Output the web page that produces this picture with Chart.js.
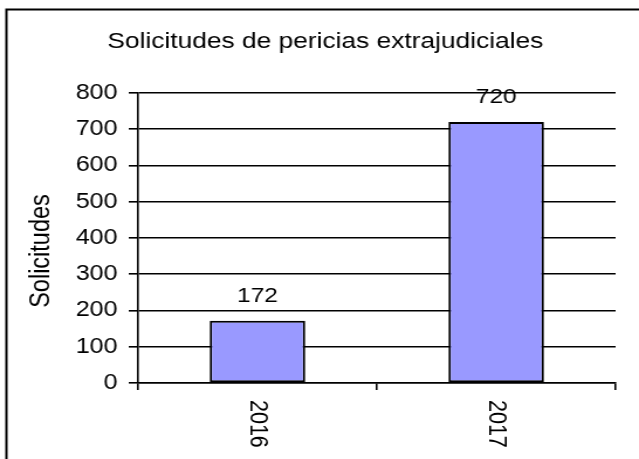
<!DOCTYPE html>
<html>
<head>
<meta charset="utf-8">
<script src="https://cdn.jsdelivr.net/npm/chart.js@4"></script>
<style>
  html, body { margin: 0; padding: 0; background: #fff; overflow: hidden; }
  /* el original está estirado en horizontal, lo imitamos */
  .wrapper { width: 546px; height: 459px; transform: scaleX(1.1703); transform-origin: 0 0; }
</style>
</head>
<body>
<div class="wrapper"><canvas id="grafico" width="546" height="459"></canvas></div>
<script>
const years = ['2016', '2017'];
const requests = [172, 720];
const yTicks = [0, 100, 200, 300, 400, 500, 600, 700, 800];
const chartTitle = 'Solicitudes de pericias extrajudiciales';
const yTitle = 'Solicitudes';

const FONT = '"Liberation Sans", Arial, sans-serif';

// marco negro alrededor de todo
const frame = {
  id: 'frame',
  beforeDraw(chart) {
    const c = chart.ctx;
    c.save();
    c.strokeStyle = '#000';
    c.lineWidth = 2;
    c.strokeRect(5.5, 9.5, 1000, 1000);
    c.restore();
  }
};

// valores encima de las barras
const valueLabels = {
  id: 'valueLabels',
  afterDatasetsDraw(chart) {
    const c = chart.ctx;
    const bars = chart.getDatasetMeta(0).data;
    c.save();
    c.fillStyle = '#000';
    c.font = '21px ' + FONT;
    c.textAlign = 'center';
    c.textBaseline = 'middle';
    bars.forEach((bar, i) => {
      c.fillText(String(requests[i]), bar.x, bar.y - 24.5);
    });
    c.restore();
  }
};

// etiquetas del eje x giradas (se leen de arriba hacia abajo)
const xLabels = {
  id: 'xLabels',
  afterDraw(chart) {
    const c = chart.ctx;
    const xs = chart.scales.x;
    c.save();
    c.fillStyle = '#000';
    c.font = '21.5px ' + FONT;
    c.textAlign = 'left';
    c.textBaseline = 'middle';
    years.forEach((y, i) => {
      c.save();
      c.translate(xs.getPixelForValue(i), chart.chartArea.bottom + 17);
      c.rotate(Math.PI / 2);
      c.fillText(y, 0, 0);
      c.restore();
    });
    c.restore();
  }
};

// titulo del eje y
const yAxisTitle = {
  id: 'yAxisTitle',
  afterDraw(chart) {
    const c = chart.ctx;
    c.save();
    c.fillStyle = '#000';
    c.font = '23.5px ' + FONT;
    c.textAlign = 'center';
    c.textBaseline = 'middle';
    c.translate(36, 251);
    c.rotate(-Math.PI / 2);
    c.fillText(yTitle, 0, 0);
    c.restore();
  }
};

const ctx = document.getElementById('grafico').getContext('2d');
new Chart(ctx, {
  type: 'bar',
  data: {
    labels: years,
    datasets: [{
      data: requests,
      backgroundColor: '#9999ff',
      borderColor: '#000',
      borderWidth: 2,
      borderSkipped: false,
      barPercentage: 0.4,
      categoryPercentage: 1
    }]
  },
  options: {
    responsive: false,
    animation: false,
    layout: { padding: { left: 10, right: 0, top: 0, bottom: 0 } },
    plugins: {
      legend: { display: false },
      tooltip: { enabled: false },
      title: {
        display: true,
        text: chartTitle,
        color: '#000',
        font: { family: FONT, size: 22.5, weight: 'normal' },
        padding: { top: 28.5, bottom: 37.5 }
      }
    },
    scales: {
      x: {
        grid: { drawOnChartArea: false, drawTicks: true, tickLength: 7, color: '#000', lineWidth: 1.6, offset: true },
        border: { color: '#000', width: 1.6 },
        ticks: { display: false },
        afterFit: s => { s.height = 76; s.paddingRight = 20; }
      },
      y: {
        min: 0,
        max: 800,
        afterBuildTicks: axis => { axis.ticks = yTicks.map(v => ({ value: v })); },
        grid: { color: '#000', lineWidth: 1.6, tickLength: 8 },
        border: { color: '#000', width: 1.6 },
        ticks: { color: '#000', font: { family: FONT, size: 21.5 }, padding: 9.5 },
        afterFit: s => { s.width = 108; }
      }
    }
  },
  plugins: [frame, valueLabels, xLabels, yAxisTitle]
});
</script>
</body>
</html>
